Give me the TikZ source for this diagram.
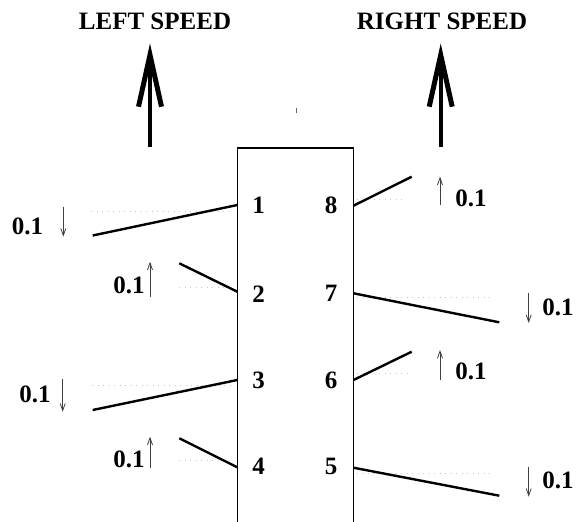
\documentclass[tikz,border=0pt]{standalone}
\usepackage{fontspec}
\setmainfont{Liberation Serif}
\usetikzlibrary{arrows.meta}
\begin{document}
\begin{tikzpicture}[x=1pt,y=-1pt,
  lbl/.style={font=\fontsize{25}{25}\selectfont\bfseries, inner sep=0pt, anchor=center},
  thick line/.style={line width=2.4pt, black},
  dotline/.style={line width=1pt, black!22, dash pattern=on 1pt off 4.5pt},
  small arrow/.style={line width=0.8pt, black!75, -{Straight Barb[length=7pt,width=5pt,line width=0.8pt]}},
  big arrow/.style={line width=4pt, black},
  wing/.style={line width=5pt, black, line join=miter, miter limit=20}]
\useasboundingbox (0,0) rectangle (576,522);
% titles
\node[lbl] (ls) at (155,21) {LEFT SPEED};
\node[lbl] (rs) at (442,21) {RIGHT SPEED};
% big arrows
\coordinate (la0) at (150,147);
\coordinate (la1) at (150,56);
\coordinate (ra0) at (440.7,147);
\coordinate (ra1) at (440.7,56);
\draw[big arrow] (la0) -- (la1);
\draw[big arrow] (ra0) -- (ra1);
\draw[wing] (138.5,106.7) -- (150,55) -- (161.5,106.7);
\draw[wing] (429.2,106.7) -- (440.7,55) -- (452.2,106.7);
% tiny tick
\coordinate (tk0) at (296,108);
\coordinate (tk1) at (296,113);
\draw[line width=1pt, black!60] (tk0) -- (tk1);
% box (open bottom)
\draw[line width=1.1pt] (237.3,522) -- (237.3,148) -- (353.5,148) -- (353.5,522);
% numbers
\node[lbl] (n1) at (258.7,205) {1};
\node[lbl] (n2) at (258.7,294.5) {2};
\node[lbl] (n3) at (258.7,380.5) {3};
\node[lbl] (n4) at (258.7,466.5) {4};
\node[lbl] (n8) at (331,205) {8};
\node[lbl] (n7) at (331,293.5) {7};
\node[lbl] (n6) at (331,380.5) {6};
\node[lbl] (n5) at (331,466) {5};
% attach points on box
\coordinate (p1) at (237.3,205);
\coordinate (p2) at (237.3,291.7);
\coordinate (p3) at (237.3,380);
\coordinate (p4) at (237.3,467.3);
\coordinate (p8) at (353.5,205.7);
\coordinate (p7) at (353.5,293.3);
\coordinate (p6) at (353.5,380);
\coordinate (p5) at (353.5,467.7);
% free ends
\coordinate (e1) at (92.7,235.5);
\coordinate (e2) at (179.3,263.3);
\coordinate (e3) at (92.7,410);
\coordinate (e4) at (179.3,438.3);
\coordinate (e8) at (411.7,176.7);
\coordinate (e7) at (499.3,322.3);
\coordinate (e6) at (411.7,351.7);
\coordinate (e5) at (499.3,495.7);
% dotted reference lines
\draw[dotline] (91,211.5) -- (234,211.5);
\draw[dotline] (179,287) -- (234,287);
\draw[dotline] (92,385.7) -- (234,385.7);
\draw[dotline] (179,460) -- (234,460);
\draw[dotline] (357,199.3) -- (403,199.3);
\draw[dotline] (357,297.3) -- (490,297.3);
\draw[dotline] (357,373.3) -- (412,373.3);
\draw[dotline] (357,473.3) -- (490,473.3);
% thick lines
\draw[thick line] (p1) -- (e1);
\draw[thick line] (p2) -- (e2);
\draw[thick line] (p3) -- (e3);
\draw[thick line] (p4) -- (e4);
\draw[thick line] (p8) -- (e8);
\draw[thick line] (p7) -- (e7);
\draw[thick line] (p6) -- (e6);
\draw[thick line] (p5) -- (e5);
% small arrows
\coordinate (a1s) at (63.3,206.7); \coordinate (a1e) at (63.3,236.7);
\coordinate (a2s) at (150,296.7); \coordinate (a2e) at (150,261.7);
\coordinate (a3s) at (62.7,379);  \coordinate (a3e) at (62.7,411.7);
\coordinate (a4s) at (150,468);   \coordinate (a4e) at (150,436.7);
\coordinate (a8s) at (440,205);   \coordinate (a8e) at (440,176.7);
\coordinate (a7s) at (528.7,293); \coordinate (a7e) at (528.7,323);
\coordinate (a6s) at (440,380);   \coordinate (a6e) at (440,350);
\coordinate (a5s) at (528.7,466.7); \coordinate (a5e) at (528.7,496.7);
\draw[small arrow] (a1s) -- (a1e);
\draw[small arrow] (a2s) -- (a2e);
\draw[small arrow] (a3s) -- (a3e);
\draw[small arrow] (a4s) -- (a4e);
\draw[small arrow] (a8s) -- (a8e);
\draw[small arrow] (a7s) -- (a7e);
\draw[small arrow] (a6s) -- (a6e);
\draw[small arrow] (a5s) -- (a5e);
% value labels
\node[lbl] (v1) at (27.5,226.5) {0.1};
\node[lbl] (v2) at (129,285) {0.1};
\node[lbl] (v3) at (35,394) {0.1};
\node[lbl] (v4) at (129,459) {0.1};
\node[lbl] (v8) at (471,198) {0.1};
\node[lbl] (v7) at (558,307.5) {0.1};
\node[lbl] (v6) at (471,371.5) {0.1};
\node[lbl] (v5) at (558,480.5) {0.1};
\end{tikzpicture}
\end{document}
